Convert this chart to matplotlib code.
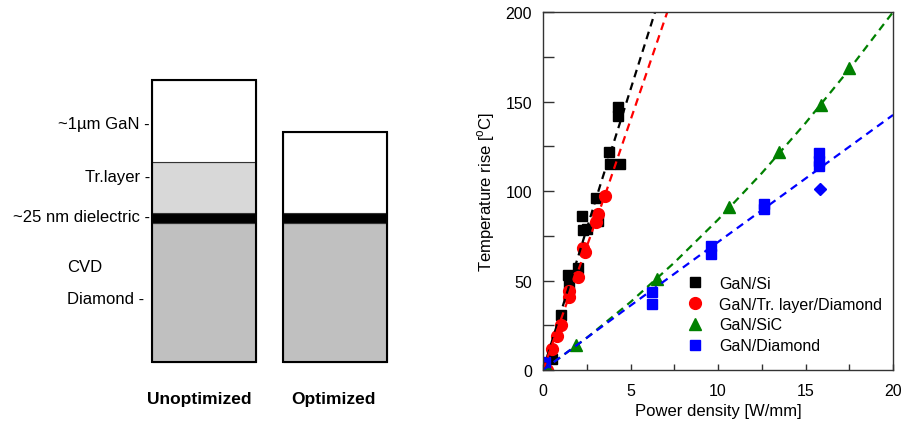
import numpy as np
import matplotlib.pyplot as plt
from matplotlib.lines import Line2D

plt.rcParams['font.family'] = ['Liberation Sans', 'DejaVu Sans']

# layer stacks (bottom to top), thickness in sketch units
layer_names = ['CVD Diamond', 'dielectric', 'Tr.layer', 'GaN']
layer_colors = ['#c0c0c0', '#000000', '#d8d8d8', '#ffffff']
unopt_thk = [139, 10, 51, 82]
opt_thk = [139, 10, 0, 81]
stack_labels = ['Unoptimized', 'Optimized']

# measured temperature rise vs power density
si_x = [0.5, 1.0, 1.45, 1.5, 2.0, 2.2, 2.3, 2.5, 3.0, 3.15, 3.75, 3.8, 4.4, 4.3, 4.3]
si_y = [6, 31, 53, 48, 57, 86, 78, 79, 96, 83, 122, 115, 115, 147, 142]

tr_x = [0.25, 0.5, 0.8, 1.0, 1.5, 1.5, 2.0, 2.3, 2.4, 3.05, 3.15, 3.55]
tr_y = [0, 12, 19, 25, 44, 41, 52, 68, 66, 82.5, 87, 97]

sic_x = [0.2, 1.9, 6.5, 10.6, 13.5, 15.9, 17.5]
sic_y = [1, 14, 51, 91, 122, 148, 169]

dia_x = [0.1, 6.25, 6.25, 9.6, 9.6, 12.6, 12.6, 15.75, 15.75, 15.75]
dia_y = [4.5, 43.5, 37, 69.5, 65, 93, 90, 121, 117, 114]
dia2_x = [15.8]
dia2_y = [101]

# dashed trend lines
si_fit_x = [0, 3.26, 6.4]
si_fit_y = [0, 103, 200]
tr_fit_x = [0, 3.6, 7.1]
tr_fit_y = [0, 99.4, 200]
sic_fit_x = [0, 2.5, 5, 7.5, 10, 12.5, 15, 17.5, 20]
sic_fit_y = [0, 18, 38, 60, 84, 110, 138, 168, 200]
dia_fit_x = [0, 5, 10, 15, 20]
dia_fit_y = [0, 36, 71.5, 107, 142.5]

fig = plt.figure(figsize=(9.04, 4.27), dpi=100)

# ---- left: layer schematic ----
axl = fig.add_axes([0, 0, 0.5, 1])
axl.set_xlim(0, 452)
axl.set_ylim(0, 427)
axl.axis('off')

base = 64
centers = [204, 335]
for cx, thk in zip(centers, [unopt_thk, opt_thk]):
    bottom = base
    for t, c in zip(thk, layer_colors):
        if t > 0:
            axl.bar(cx, t, bottom=bottom, width=104, color=c,
                    edgecolor='#333333', linewidth=0.8)
        bottom += t
    # outline of the whole stack
    axl.bar(cx, sum(thk), bottom=base, width=104, fill=False,
            edgecolor='black', linewidth=1.5)

lab_kw = dict(fontsize=12, va='center', ha='right')
axl.text(150, 302, '~1µm GaN -', **lab_kw)
axl.text(150, 249, 'Tr.layer -', **lab_kw)
axl.text(150, 209, '~25 nm dielectric -', **lab_kw)
axl.text(67, 159, 'CVD', fontsize=12, va='center', ha='left')
axl.text(67, 127, 'Diamond -', fontsize=12, va='center', ha='left')
for cx, name in zip([199, 333], stack_labels):
    axl.text(cx, 27, name, fontsize=12.5, fontweight='bold',
             ha='center', va='center')

# ---- right: temperature rise ----
ax = fig.add_axes([0.6007, 0.1311, 0.3872, 0.8384])
ax.plot(si_x, si_y, 's', color='black', ms=7.5, ls='none')
ax.plot(tr_x, tr_y, 'o', color='red', ms=8.5, ls='none')
ax.plot(sic_x, sic_y, '^', color='green', ms=9, ls='none')
ax.plot(dia_x, dia_y, 's', color='blue', ms=7.5, ls='none')
ax.plot(dia2_x, dia2_y, 'D', color='blue', ms=6.5, ls='none')

dash = (3.5, 2.5)
ax.plot(si_fit_x, si_fit_y, '--', color='black', lw=1.6, dashes=dash)
ax.plot(tr_fit_x, tr_fit_y, '--', color='red', lw=1.6, dashes=dash)
ax.plot(sic_fit_x, sic_fit_y, '--', color='green', lw=1.6, dashes=dash)
ax.plot(dia_fit_x, dia_fit_y, '--', color='blue', lw=1.6, dashes=dash)

ax.set_xlim(0, 20)
ax.set_ylim(0, 200)
ax.set_xticks(np.arange(0, 21, 5))
ax.set_xticks(np.arange(0, 20.1, 2.5), minor=True)
ax.set_yticks(np.arange(0, 201, 50))
ax.set_yticks(np.arange(0, 201, 25), minor=True)
ax.tick_params(axis='y', which='both', direction='in', length=8, width=1,
               color='#333333', labelsize=11.5, pad=8, right=False)
ax.tick_params(axis='x', which='both', direction='in', length=4.5, width=1,
               color='#333333', labelsize=11.5, pad=9, top=False)
for sp in ax.spines.values():
    sp.set_color('#333333')
    sp.set_linewidth(1)

ax.set_xlabel('Power density [W/mm]', fontsize=12, labelpad=4)
ax.set_ylabel('Temperature rise [$^\\mathregular{o}$C]', fontsize=12, labelpad=6)

handles = [
    Line2D([], [], marker='s', color='black', ls='none', ms=7.5),
    Line2D([], [], marker='o', color='red', ls='none', ms=8.5),
    Line2D([], [], marker='^', color='green', ls='none', ms=9),
    Line2D([], [], marker='s', color='blue', ls='none', ms=7.5),
]
names = ['GaN/Si', 'GaN/Tr. layer/Diamond', 'GaN/SiC', 'GaN/Diamond']
ax.legend(handles, names, loc='lower left', bbox_to_anchor=(0.411, 0.047),
          frameon=False, fontsize=11.5, handlelength=1.0, handletextpad=1.0,
          labelspacing=0.36, borderpad=0, borderaxespad=0)

fig.savefig('out.png', dpi=100)
